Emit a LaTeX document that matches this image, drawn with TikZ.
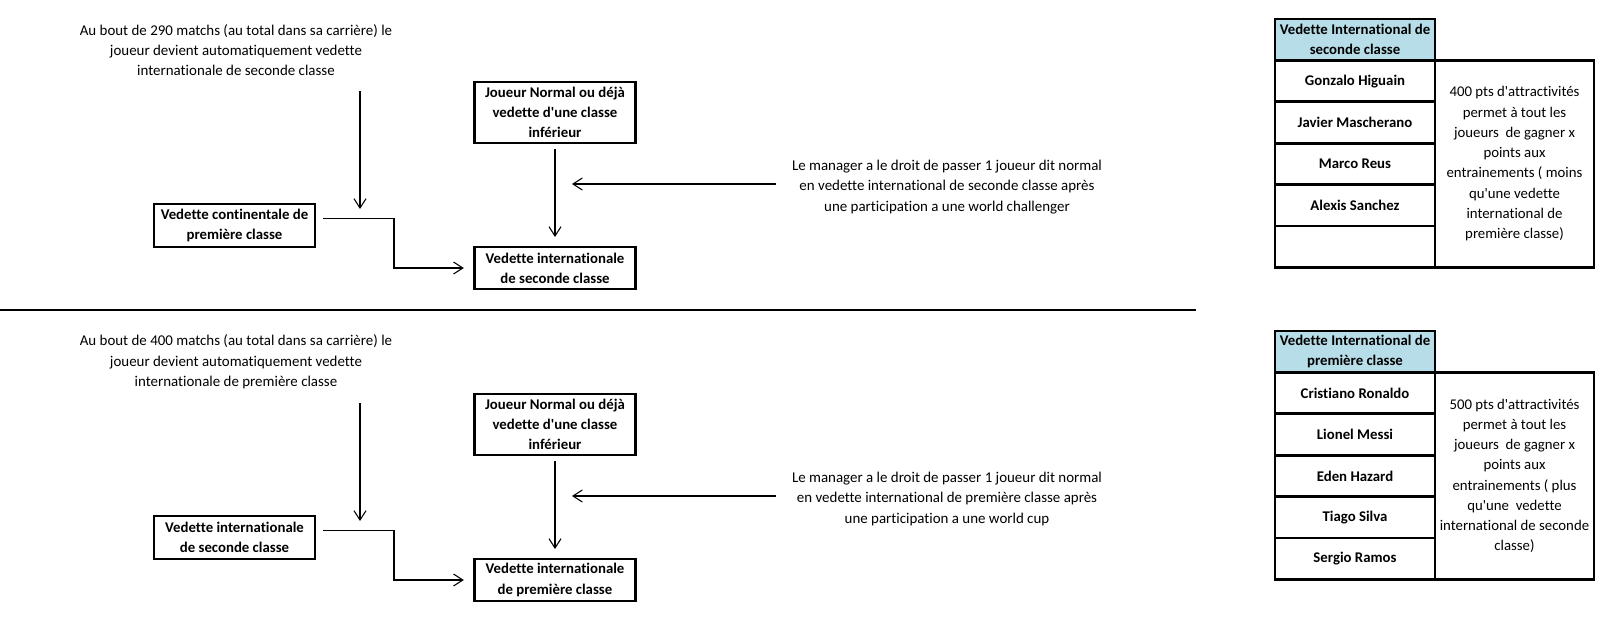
\documentclass[tikz,border=0pt]{standalone}
\usepackage{fontspec}
\setmainfont{Carlito}[Ligatures={TeXOff,NoCommon}]
\usetikzlibrary{arrows.meta}
\definecolor{hdr}{RGB}{183,222,232}
\begin{document}
\begin{tikzpicture}[x=0.75pt,y=-0.75pt,
  every node/.style={inner sep=0pt,outer sep=0pt},
  txt/.style={align=center,font=\fontsize{11.2}{15.2}\selectfont},
  box/.style={draw,line width=2.2pt,align=center,font=\bfseries\fontsize{11.1}{15.2}\selectfont,
    minimum width=161*0.75pt},
  cell/.style={draw,line width=2.2pt,align=center,font=\bfseries\fontsize{11.1}{15.2}\selectfont,
    minimum width=160*0.75pt,minimum height=41.4*0.75pt},
  hcell/.style={cell,fill=hdr},
  note/.style={draw,line width=2.2pt,align=center,font=\fontsize{11.1}{15.2}\selectfont,
    minimum width=159*0.75pt,minimum height=207*0.75pt},
  arr/.style={-{Straight Barb[length=7pt,width=9pt]},line width=0.8pt},
  sepline/.style={line width=1.8pt}]
\useasboundingbox (0,0) rectangle (1622,643);

% ---------- top section ----------
\node[txt] (T1) at (236,50) {Au bout de 290 matchs (au total dans sa carrière) le\\joueur devient automatiquement vedette\\internationale de seconde classe};
\node[box,minimum height=43*0.75pt] (C1) at (234.5,225.5) {Vedette continentale de\\première classe};
\node[box,minimum height=61*0.75pt] (J1) at (555,112.5) {Joueur Normal ou déjà\\vedette d'une classe\\inférieur};
\node[box,minimum height=42*0.75pt] (V1) at (555,268) {Vedette internationale\\de seconde classe};
\node[txt] (T2) at (947,187) {Le manager a le droit de passer 1 joueur dit normal\\en vedette international de seconde classe après\\une participation a une world challenger};

\coordinate (a1s) at (360,91);
\coordinate (a1e) at (360,209);
\draw[arr] (a1s) -- (a1e);
\coordinate (e1) at (394,268);
\draw[arr] ([xshift=6pt,yshift=5pt]C1.east) -| (e1) -- ([xshift=-8pt]V1.west);
\draw[arr,shorten <=4.5pt,shorten >=7.5pt] (J1.south) -- (V1.north);
\coordinate (m1s) at (776,184);
\coordinate (m1e) at (572,184);
\draw[arr] (m1s) -- (m1e);

% separator
\coordinate (s1) at (0,310);
\coordinate (s2) at (1196,310);
\draw[sepline] (s1) -- (s2);

% ---------- bottom section ----------
\node[txt] (T3) at (236,362) {Au bout de 400 matchs (au total dans sa carrière) le\\joueur devient automatiquement vedette\\internationale de première classe};
\node[box,minimum height=43*0.75pt] (C2) at (234.5,537.5) {Vedette internationale\\de seconde classe};
\node[box,minimum height=61*0.75pt] (J2) at (555,424.5) {Joueur Normal ou déjà\\vedette d'une classe\\inférieur};
\node[box,minimum height=42*0.75pt] (V2) at (555,580) {Vedette internationale\\de première classe};
\node[txt] (T4) at (947,499) {Le manager a le droit de passer 1 joueur dit normal\\en vedette international de première classe après\\une participation a une world cup};

\coordinate (a2s) at (360,403);
\coordinate (a2e) at (360,521);
\draw[arr] (a2s) -- (a2e);
\coordinate (e2) at (394,580);
\draw[arr] ([xshift=6pt,yshift=5pt]C2.east) -| (e2) -- ([xshift=-8pt]V2.west);
\draw[arr,shorten <=4.5pt,shorten >=7.5pt] (J2.south) -- (V2.north);
\coordinate (m2s) at (776,496);
\coordinate (m2e) at (572,496);
\draw[arr] (m2s) -- (m2e);

% ---------- top table ----------
\node[hcell] (H1) at (1355,39.7) {Vedette International de\\seconde classe};
\node[cell] (r11) at (1355,81.1) {Gonzalo Higuain};
\node[cell] (r12) at (1355,122.5) {Javier Mascherano};
\node[cell] (r13) at (1355,163.9) {Marco Reus};
\node[cell] (r14) at (1355,205.3) {Alexis Sanchez};
\node[cell] (r15) at (1355,246.7) {};
\node[note] (N1) at (1514.5,163.9) {400 pts d'attractivités\\permet à tout les\\joueurs\ \ de gagner x\\points aux\\entrainements ( moins\\qu'une vedette\\international de\\première classe)};

% ---------- bottom table ----------
\node[hcell] (H2) at (1355,351.7) {Vedette International de\\première classe};
\node[cell] (r21) at (1355,393.1) {Cristiano Ronaldo};
\node[cell] (r22) at (1355,434.5) {Lionel Messi};
\node[cell] (r23) at (1355,475.9) {Eden Hazard};
\node[cell] (r24) at (1355,517.3) {Tiago Silva};
\node[cell] (r25) at (1355,558.7) {Sergio Ramos};
\node[note] (N2) at (1514.5,475.9) {500 pts d'attractivités\\permet à tout les\\joueurs\ \ de gagner x\\points aux\\entrainements ( plus\\qu'une\ \ vedette\\international de seconde\\classe)};
\end{tikzpicture}
\end{document}
